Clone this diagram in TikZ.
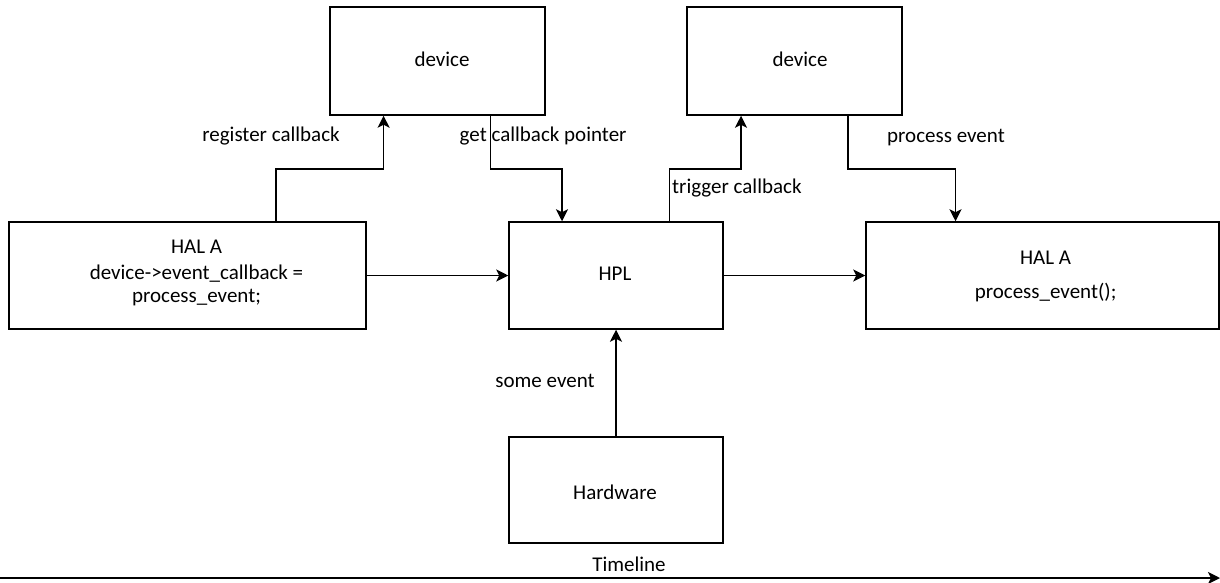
\documentclass[tikz,border=0pt]{standalone}
\usepackage{fontspec}
\setmainfont{Carlito}
\usetikzlibrary{arrows.meta}
\begin{document}
\begin{tikzpicture}[x=1pt,y=-1pt,
  font=\fontsize{21}{25}\selectfont,
  box/.style={draw, line width=1.5pt, inner sep=0pt},
  conn/.style={line width=1.5pt, -{Stealth[length=12pt,width=12pt,inset=3pt]}},
  lbl/.style={inner sep=0pt}]
\useasboundingbox (0,0) rectangle (1220,582);

% boxes
\node[box, minimum width=215pt, minimum height=108pt] (dev1) at (437.5,61) {};
\node[box, minimum width=215pt, minimum height=108pt] (dev2) at (794.5,61) {};
\node[box, minimum width=357pt, minimum height=107pt] (hal1) at (187.5,275.5) {};
\node[box, minimum width=214pt, minimum height=107pt] (hpl) at (616,275.5) {};
\node[box, minimum width=353pt, minimum height=107pt] (hal2) at (1042.5,275.5) {};
\node[box, minimum width=214pt, minimum height=106pt] (hw) at (616,490) {};

% box texts
\node[lbl] (tdev1) at (442,59) {device};
\node[lbl] (tdev2) at (800,59) {device};
\node[lbl] (thal1a) at (196.5,247) {HAL A};
\node[lbl] (thal1b) at (196.5,274) {device->event\_callback =};
\node[lbl] (thal1c) at (196.5,298) {process\_event;};
\node[lbl] (thpl) at (615,274) {HPL};
\node[lbl] (thal2a) at (1045.6,258) {HAL A};
\node[lbl] (thal2b) at (1045.6,293) {process\_event();};
\node[lbl] (thw) at (615,492) {Hardware};

% bend points
\coordinate (r0) at (276,169);
\coordinate (r1) at (383.6,169);
\coordinate (g0) at (490.7,169);
\coordinate (g1) at (562,169);
\coordinate (t0) at (669.6,169);
\coordinate (t1) at (741,169);
\coordinate (p0) at (848,169);
\coordinate (p1) at (955.5,169);
\coordinate (tl0) at (0,578);
\coordinate (tl1) at (1220,578);

% connectors
\draw[conn] (r0 |- hal1.north) -- (r0) -- (r1) -- (r1 |- dev1.south);
\draw[conn] (g0 |- dev1.south) -- (g0) -- (g1) -- (g1 |- hpl.north);
\draw[conn] (t0 |- hpl.north) -- (t0) -- (t1) -- (t1 |- dev2.south);
\draw[conn] (p0 |- dev2.south) -- (p0) -- (p1) -- (p1 |- hal2.north);
\draw[conn] (hal1) -- (hpl);
\draw[conn] (hpl) -- (hal2);
\draw[conn] (hw) -- (hpl);
\draw[conn] (tl0) -- (tl1);

% connector labels
\node[lbl] (lreg) at (271,136) {register callback};
\node[lbl, anchor=west] (lget) at (459.5,136) {get callback pointer};
\node[lbl, anchor=west] (ltrig) at (672,188) {trigger callback};
\node[lbl, anchor=west] (lproc) at (887,138) {process event};
\node[lbl] (lsome) at (545,381) {some event};
\node[lbl] (ltime) at (629,564) {Timeline};
\end{tikzpicture}
\end{document}
